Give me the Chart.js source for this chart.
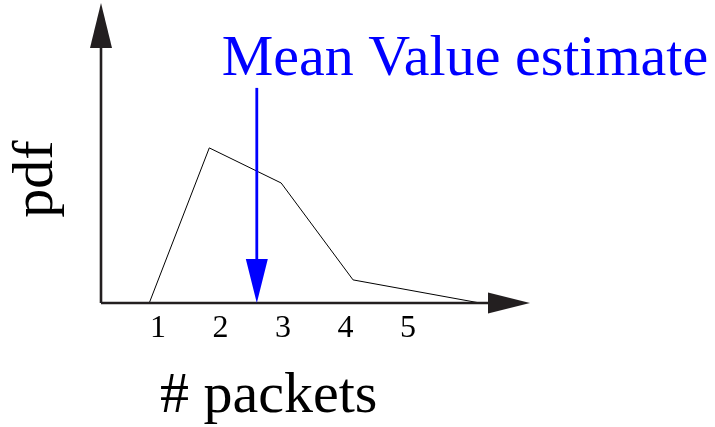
<!DOCTYPE html>
<html>
<head>
<meta charset="utf-8">
<script src="https://cdn.jsdelivr.net/npm/chart.js@4.4.1/dist/chart.umd.min.js"></script>
<style>
  html, body { margin: 0; padding: 0; background: #fff; }
  #wrap { width: 715px; height: 427px; }
</style>
</head>
<body>
<div id="wrap"><canvas id="myChart"></canvas></div>
<script>
// packet count (x) and pdf value (y) of the sketched curve
const packets = [0.86, 1.82, 2.97, 4.12, 6.15];
const pdfValues = [0, 0.517, 0.40, 0.077, 0];
const tickLabels = [1, 2, 3, 4, 5];
const meanValue = 2.58;

const serif = "'Liberation Serif', 'Times New Roman', serif";
const axisColor = '#231f20';

function arrowHead(ctx, tipX, tipY, baseX, baseY, half) {
    const dx = tipX - baseX, dy = tipY - baseY;
    const len = Math.hypot(dx, dy);
    const nx = -dy / len * half, ny = dx / len * half;
    ctx.beginPath();
    ctx.moveTo(tipX, tipY);
    ctx.lineTo(baseX + nx, baseY + ny);
    ctx.lineTo(baseX - nx, baseY - ny);
    ctx.closePath();
    ctx.fill();
}

const sketchPlugin = {
    id: 'sketch',
    afterDatasetsDraw(chart) {
        const ctx = chart.ctx;
        const a = chart.chartArea;
        const xs = chart.scales.x, ys = chart.scales.y;
        const x0 = a.left, y0 = ys.getPixelForValue(0);

        ctx.save();
        // axes with arrows
        ctx.strokeStyle = axisColor;
        ctx.fillStyle = axisColor;
        ctx.lineWidth = 2.6;
        ctx.beginPath();
        ctx.moveTo(x0, y0);
        ctx.lineTo(a.right - 30, y0);
        ctx.moveTo(x0, y0);
        ctx.lineTo(x0, a.top + 30);
        ctx.stroke();
        arrowHead(ctx, a.right, y0, a.right - 42, y0, 10.5);
        arrowHead(ctx, x0, a.top, x0, a.top + 45, 11);

        // mean value arrow
        const mx = xs.getPixelForValue(meanValue);
        ctx.strokeStyle = '#0000ff';
        ctx.fillStyle = '#0000ff';
        ctx.lineWidth = 2.8;
        ctx.beginPath();
        ctx.moveTo(mx, ys.getPixelForValue(0.717));
        ctx.lineTo(mx, y0 - 30);
        ctx.stroke();
        arrowHead(ctx, mx, y0, mx, y0 - 44, 11);

        ctx.font = '58px ' + serif;
        ctx.textAlign = 'left';
        ctx.textBaseline = 'alphabetic';
        ctx.fillText('Mean Value estimate', mx - 35, 75);

        // axis titles
        ctx.fillStyle = '#000';
        ctx.fillText('# packets', 160, 412);
        ctx.translate(52, 179);
        ctx.rotate(-Math.PI / 2);
        ctx.textAlign = 'center';
        ctx.fillText('pdf', 0, 0);
        ctx.restore();
    }
};

const ctx = document.getElementById('myChart');

const myChart = new Chart(ctx, {
    type: 'scatter',
    data: {
        datasets: [{
            label: 'pdf',
            data: packets.map((p, i) => ({ x: p, y: pdfValues[i] })),
            showLine: true,
            borderColor: '#000',
            borderWidth: 1,
            pointRadius: 0,
            tension: 0
        }]
    },
    options: {
        responsive: true,
        maintainAspectRatio: false,
        animation: false,
        layout: {
            padding: { left: 101, right: 185, top: 3, bottom: 0 }
        },
        scales: {
            x: {
                type: 'linear',
                min: 0.088,
                max: 6.95,
                afterBuildTicks(scale) {
                    scale.ticks = tickLabels.map(v => ({ value: v }));
                },
                afterFit(scale) {
                    scale.height = 124;
                },
                grid: { display: false, drawTicks: false },
                border: { display: false },
                ticks: {
                    padding: 6,
                    color: '#000',
                    font: { family: serif, size: 32 }
                }
            },
            y: {
                display: false,
                min: 0,
                max: 1
            }
        },
        plugins: {
            legend: { display: false },
            tooltip: { enabled: false }
        }
    },
    plugins: [sketchPlugin]
});
</script>
</body>
</html>
